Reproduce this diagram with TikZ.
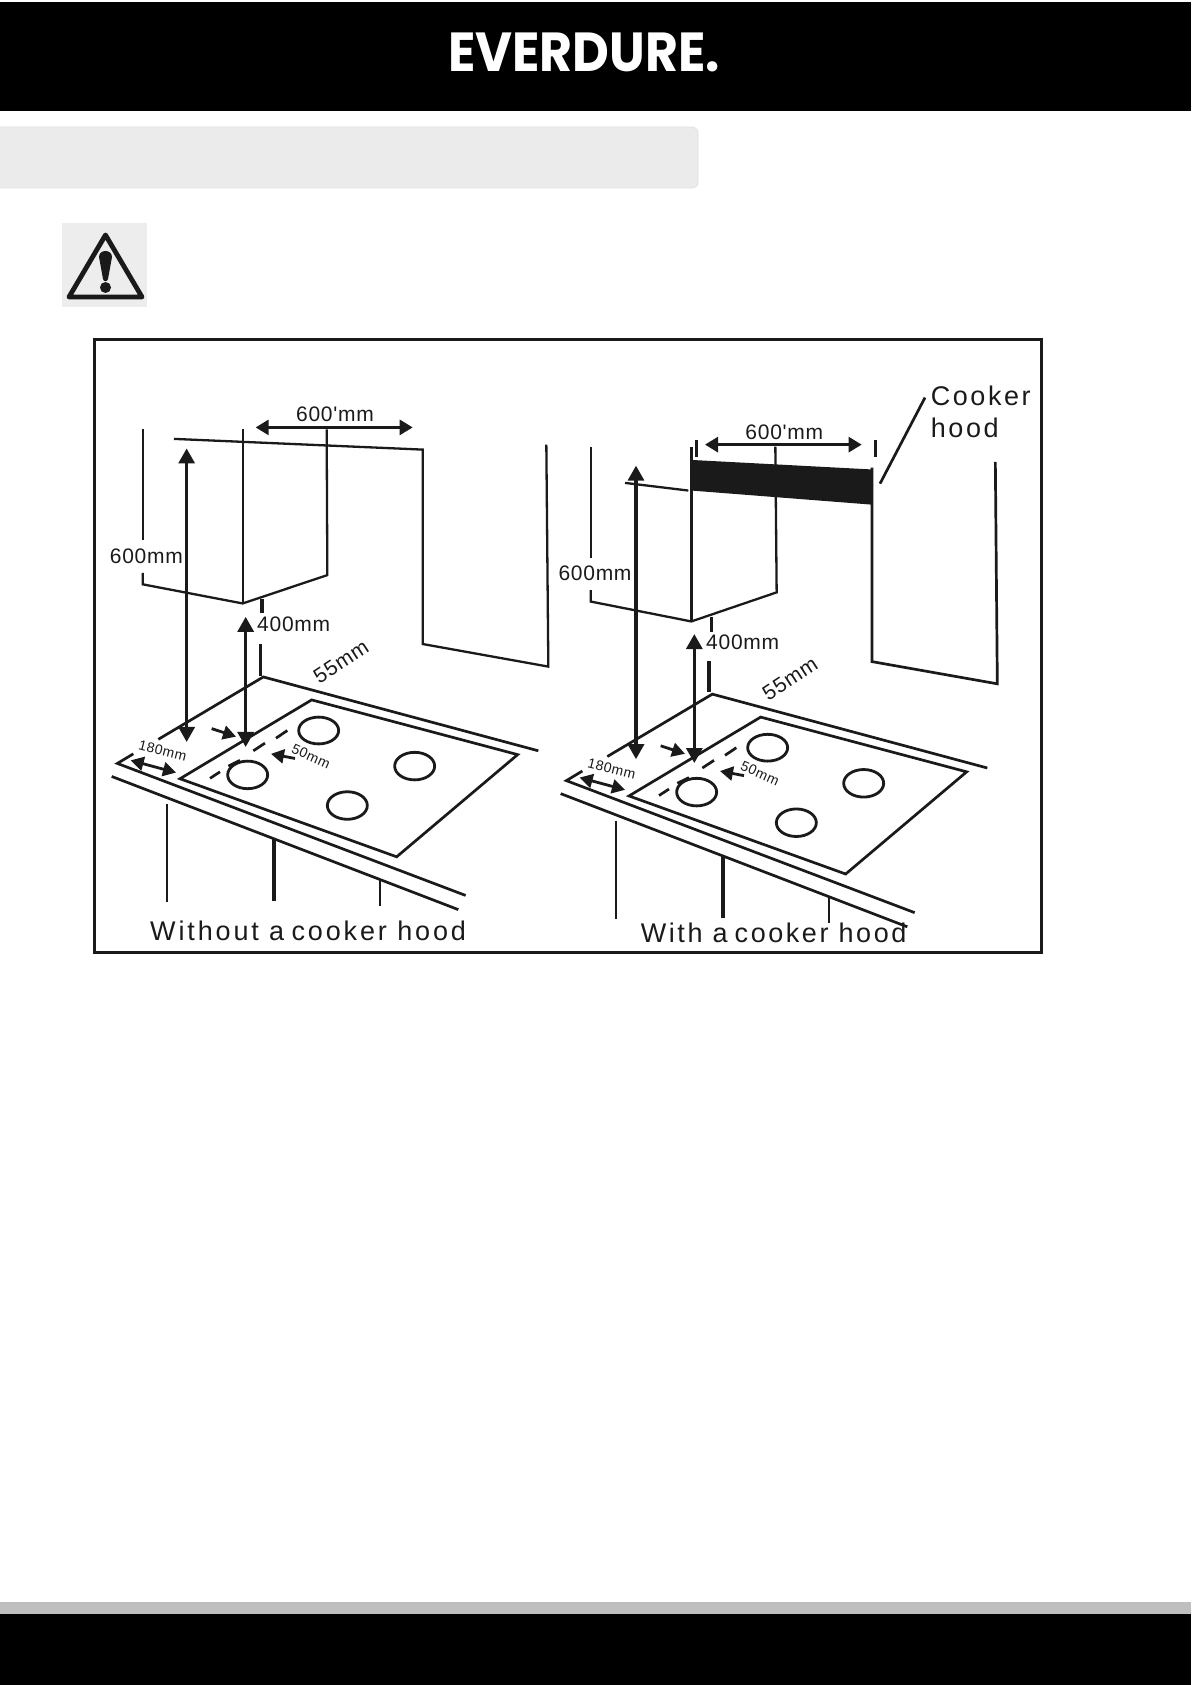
\documentclass[tikz,border=0pt]{standalone}
\usepackage{fontspec}
\usetikzlibrary{arrows.meta}
\setmainfont{Liberation Sans}
\newfontfamily\labfont[LetterSpace=3.5]{Liberation Sans}
\newfontfamily\capfont[LetterSpace=9.5]{Liberation Sans}
\newfontfamily\capleftfont[LetterSpace=10.6]{Liberation Sans}
\newfontfamily\caprightfont[LetterSpace=9.5]{Liberation Sans}
\newfontfamily\logofont{Poppins}
\definecolor{ink}{HTML}{1A1A1A}
\tikzset{
  ln/.style={draw=ink,line width=2.7pt},
  ltn/.style={draw=ink,line width=2.3pt},
  thk/.style={draw=ink,line width=3.5pt},
  bigarrow/.style={draw=ink,line width=3.2pt,{Triangle[length=15pt,width=16pt]}-{Triangle[length=15pt,width=16pt]}},
  smallone/.style={draw=ink,line width=2.8pt,-{Triangle[length=13pt,width=14pt]}},
  smalltwo/.style={draw=ink,line width=2.8pt,{Triangle[length=13pt,width=14pt]}-{Triangle[length=13pt,width=14pt]}},
  lab/.style={inner sep=0pt,text=ink,font=\labfont\fontsize{21}{21}\selectfont},
  tiny/.style={inner sep=0pt,text=ink,font=\labfont\fontsize{14}{14}\selectfont},
  bigt/.style={inner sep=0pt,text=ink,font=\capfont\fontsize{27}{27}\selectfont},
  capleft/.style={inner sep=0pt,text=ink,font=\capleftfont\fontsize{27}{27}\selectfont},
  capright/.style={inner sep=0pt,text=ink,font=\caprightfont\fontsize{27}{27}\selectfont},
  burner/.style={draw=ink,line width=2.8pt,fill=white},
  zoomframe/.style={x=0.33333pt,y=-0.38270pt}
}
\newcommand{\cooktopgroup}[1]{%
  \draw[ln] (205,965) -- (520,802) -- (1345,995);
  \draw[ln] (130,1003) -- (82,1028) -- (1127,1373);
  \draw[ln] (65,1062) -- (1105,1410);
  \draw[ln] (270,1068) -- (665,862) -- (1283,1005) -- (920,1272) -- cycle;
  \draw[burner] (686,942) ellipse [x radius=60,y radius=35];
  \draw[burner] (473,1058) ellipse [x radius=60,y radius=36];
  \draw[burner] (974,1035) ellipse [x radius=60,y radius=36];
  \draw[burner] (772,1138) ellipse [x radius=60,y radius=36];
  \draw[ln] (360,1067) -- (390,1050);
  \draw[ln] (415,1035) -- (450,1020);
  \draw[ln] (490,995) -- (525,975);
  \draw[ln] (558,962) -- (592,942);
  \draw[smallone] (365,937) -- (438,958);
  \draw[smallone] (615,1015) -- (543,1003);
  \draw[smalltwo] (122,1020) -- (258,1052);
  \draw[ltn] (231,1133) -- (231,1390);
  \draw[thk] (552,1225) -- (552,1387);
  \draw[ln] (870,1330) -- (870,1400);
  \node[tiny,rotate=-14] (t180#1) at (218,996) {180mm};
  \node[tiny,rotate=-24] (t50#1) at (663,1009) {50mm};
  \node[lab,rotate=33] (t55#1) at (753,762) {55mm};
}
\begin{document}
\begin{tikzpicture}[x=1pt,y=-1pt]
\useasboundingbox (0,0) rectangle (1191,1685);
% page furniture
\fill[black] (0,2) rectangle (1191,111);
\node[inner sep=0pt,text=white,xscale=0.92,font=\logofont\bfseries\fontsize{55}{55}\selectfont] (logo) at (584,52) {EVERDURE.};
\draw[draw=black!12,fill=black!8,line width=0.8pt,rounded corners=6pt] (-8,127) rectangle (698,188);
\fill[black!7] (62,223) rectangle (147,307);
\draw[draw=ink,line width=4.8pt,line join=round] (105.5,235) -- (142,297) -- (69,297) -- cycle;
\fill[ink] (99,257) .. controls (99,249) and (112,249) .. (112,257) -- (108,279) .. controls (107.5,282) and (103.5,282) .. (103,279) -- cycle;
\fill[ink] (105.5,287.5) ellipse [x radius=5.5,y radius=5.5];
\fill[black!25] (0,1602) rectangle (1191,1614);
\fill[black] (0,1614) rectangle (1191,1685);
\draw[draw=ink,line width=3pt] (94.5,339) rectangle (1041,952);
% left panel
\begin{scope}[shift={(90,370)},zoomframe]
  \draw[ltn] (158,155) -- (158,445);
  \draw[ltn] (158,530) -- (158,560) -- (458,610) -- (712,536) -- (710,155);
  \draw[ln] (459,155) -- (459,610);
  \draw[ltn] (252,180) -- (998,208) -- (998,716) -- (1375,775) -- (1369,195);
  \draw[smalltwo,{Triangle[length=13pt,width=15pt]}-{Triangle[length=13pt,width=15pt]}] (497,150) -- (968,150);
  \node[lab] (topL) at (735,115) {600'mm};
  \draw[bigarrow] (290,205) -- (290,972);
  \node[lab,anchor=west] (heightL) at (59,487) {600mm};
  \draw[bigarrow] (467,645) -- (467,985);
  \node[lab,anchor=west] (gapL) at (501,665) {400mm};
  \draw[thk] (516,598) -- (516,635);
  \draw[thk] (511,716) -- (511,800);
  \cooktopgroup{L}
  \node[capleft,anchor=west] (capL) at (180,1465) {Without a\hspace{-3pt} cooker hood};
\end{scope}
% right panel
\begin{scope}[shift={(540,370)},zoomframe]
  \draw[ltn] (152,202) -- (152,492);
  \draw[ltn] (152,575) -- (152,605) -- (454,657) -- (710,581) -- (706,200);
  \draw[thk] (454,200) -- (454,657);
  \draw[thk] (470,183) -- (470,228);
  \draw[thk] (1006,183) -- (1006,228);
  \draw[ltn] (255,295) -- (445,315);
  \fill[ink] (454,235) -- (998,260) -- (998,352) -- (454,315) -- cycle;
  \draw[ln] (996,255) -- (996,762) -- (1372,820) -- (1366,240);
  \draw[smalltwo,{Triangle[length=13pt,width=15pt]}-{Triangle[length=13pt,width=15pt]}] (495,195) -- (965,195);
  \node[lab] (topR) at (733,162) {600'mm};
  \draw[bigarrow] (288,250) -- (288,1017);
  \node[lab,anchor=west] (heightR) at (55,532) {600mm};
  \draw[bigarrow] (463,690) -- (463,1027);
  \node[lab,anchor=west] (gapR) at (498,712) {400mm};
  \draw[thk] (514,646) -- (514,684);
  \draw[thk] (507,760) -- (507,842);
  \node[bigt,anchor=west] (hoodA) at (1172,67) {Cooker};
  \node[bigt,anchor=west] (hoodB) at (1172,152) {hood};
  \draw[ln] (1155,72) -- (1020,297);
\end{scope}
\begin{scope}[shift={(539,387.2)},zoomframe]
  \cooktopgroup{R}
\end{scope}
\begin{scope}[shift={(540,370)},zoomframe]
  \node[capright,anchor=west] (capR) at (302,1470) {With a\hspace{-3pt} cooker hood};
\end{scope}
\end{tikzpicture}
\end{document}
